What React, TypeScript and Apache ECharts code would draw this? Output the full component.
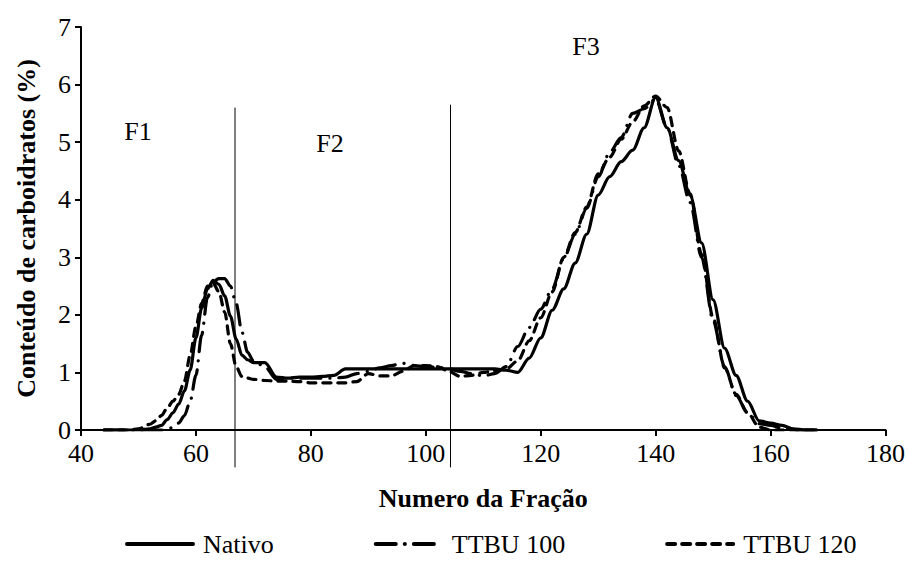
import React, { useEffect, useRef } from "react";
import * as echarts from "echarts";

const FONT = '"Liberation Serif", "Times New Roman", serif';

const fractionNumbers = [
  44, 46, 48, 50, 52, 53, 54, 55, 56, 57, 58, 59, 60, 61, 62, 63, 64, 65, 66, 67, 68, 69, 70,
  72, 74, 76, 78, 80, 82, 84, 86, 88, 90, 92, 94, 96, 98, 100, 102, 104, 106, 108, 110, 112,
  114, 116, 118, 120, 122, 124, 126, 128, 130, 132, 134, 136, 138, 140, 142, 144, 146, 148,
  150, 152, 154, 156, 158, 160, 162, 164, 166, 168,
];

const nativo = [
  0, 0, 0, 0, 0.02, 0.05, 0.08, 0.18, 0.3, 0.45, 0.68, 1.04, 1.6, 2.12, 2.45, 2.6, 2.53, 2.33,
  1.98, 1.58, 1.3, 1.22, 1.17,
  1.17, 0.92, 0.9, 0.92, 0.92, 0.93, 0.95, 1.06, 1.06, 1.06, 1.06, 1.06, 1.06, 1.06, 1.06,
  1.06, 1.06, 1.06, 1.06, 1.06, 1.06, 1.04, 1.0, 1.25, 1.6, 2.08, 2.45, 2.9, 3.4, 4.08, 4.4,
  4.66, 4.86, 5.25, 5.78, 5.25, 4.68, 4.08, 3.25, 2.26, 1.42, 0.95, 0.5, 0.16, 0.12, 0.08,
  0.02, 0, 0,
];

const ttbu100 = [
  0, 0, 0, 0, 0, 0, 0, 0.01, 0.05, 0.12, 0.25, 0.5, 0.95, 1.65, 2.3, 2.58, 2.63, 2.63, 2.5,
  2.2, 1.7, 1.35, 1.2,
  1.1, 0.88, 0.9, 0.9, 0.9, 0.9, 0.9, 0.92, 0.98, 1.02, 1.08, 1.12, 1.16, 1.12, 1.1, 1.09,
  1.06, 1.02, 0.98, 0.94, 0.98, 1.1, 1.45, 1.78, 2.1, 2.45, 2.98, 3.4, 3.85, 4.4, 4.82, 5.08,
  5.5, 5.58, 5.75, 5.25, 4.6, 3.95, 3.0, 1.9, 1.1, 0.6, 0.3, 0.11, 0.08, 0.03, 0, 0, 0,
];

const ttbu120 = [
  0, 0, 0, 0.02, 0.1, 0.16, 0.25, 0.38, 0.5, 0.62, 0.85, 1.3, 1.8, 2.2, 2.5, 2.55, 2.4, 2.05,
  1.5, 1.1, 0.93, 0.9, 0.88,
  0.86, 0.85, 0.85, 0.84, 0.82, 0.82, 0.82, 0.82, 0.84, 0.98, 0.94, 0.94, 1.02, 1.12, 1.12,
  1.1, 1.02, 0.93, 0.95, 1.0, 1.03, 1.06, 1.2, 1.55, 1.95, 2.4, 3.0, 3.43, 3.87, 4.45, 4.74,
  5.05, 5.35, 5.63, 5.8, 5.6, 4.85, 4.1, 3.05, 1.95, 1.08, 0.62, 0.3, 0.05, 0, 0, 0, 0, 0,
];

const seriesNames = ["Nativo", "TTBU 100", "TTBU 120"];
const separatorX = [66.8, 104.3];
const separatorTop = [5.6, 5.65];
const separatorBottom = -0.65;
const fractionLabels = ["F1", "F2", "F3"];

function zip(xs: number[], ys: number[]) {
  return xs.map((x, i) => [x, ys[i]]);
}

export default function App() {
  const ref = useRef<HTMLDivElement>(null);

  useEffect(() => {
    if (!ref.current) return;
    const chart = echarts.init(ref.current, undefined, { renderer: "svg" });

    const lineBase = {
      type: "line" as const,
      showSymbol: false,
      symbol: "none",
      smooth: 0.3,
      smoothMonotone: "x" as const,
      z: 3,
    };

    const separators = separatorX.map((x, i) => ({
      type: "line" as const,
      name: "sep" + i,
      data: [
        [x, separatorTop[i]],
        [x, separatorBottom],
      ],
      showSymbol: false,
      symbol: "none",
      clip: false,
      silent: true,
      lineStyle: { color: "#000", width: 1 },
      z: 2,
    }));

    const labelStyle = (text: string) => ({
      text,
      font: `26px ${FONT}`,
      fill: "#000",
      align: "center",
      verticalAlign: "middle",
    });

    chart.setOption({
      animation: false,
      backgroundColor: "#fff",
      textStyle: { fontFamily: FONT, color: "#000" },
      grid: { left: 81, right: 22, top: 27, bottom: 136, containLabel: false },
      legend: {
        data: seriesNames,
        left: 125,
        top: 531,
        padding: 0,
        itemWidth: 66,
        itemHeight: 2,
        itemGap: 100,
        itemStyle: { opacity: 0 },
        lineStyle: { width: 4 },
        textStyle: {
          fontFamily: FONT,
          fontSize: 26,
          color: "#000",
          padding: [0, 0, 0, 5],
        },
      },
      xAxis: {
        type: "value",
        min: 40,
        max: 180,
        interval: 20,
        name: "Numero da Fração",
        nameLocation: "middle",
        nameGap: 55,
        nameTextStyle: { fontFamily: FONT, fontSize: 26, fontWeight: "bold", color: "#000" },
        axisLine: { show: true, lineStyle: { color: "#000", width: 2 } },
        axisTick: { show: true, inside: false, length: 6, lineStyle: { color: "#000", width: 2 } },
        axisLabel: { fontFamily: FONT, fontSize: 26, color: "#000", margin: 10 },
        splitLine: { show: false },
      },
      yAxis: {
        type: "value",
        min: 0,
        max: 7,
        interval: 1,
        name: "Conteúdo de carboidratos (%)",
        nameLocation: "middle",
        nameGap: 42,
        nameTextStyle: { fontFamily: FONT, fontSize: 26, fontWeight: "bold", color: "#000" },
        axisLine: { show: true, lineStyle: { color: "#000", width: 2 } },
        axisTick: { show: true, inside: false, length: 6, lineStyle: { color: "#000", width: 2 } },
        axisLabel: { fontFamily: FONT, fontSize: 26, color: "#000", margin: 10 },
        splitLine: { show: false },
      },
      graphic: [
        { type: "text", x: 138, y: 131, style: labelStyle(fractionLabels[0]) },
        { type: "text", x: 330, y: 143, style: labelStyle(fractionLabels[1]) },
        { type: "text", x: 586, y: 46, style: labelStyle(fractionLabels[2]) },
      ],
      series: [
        ...separators,
        {
          ...lineBase,
          name: seriesNames[0],
          data: zip(fractionNumbers, nativo),
          itemStyle: { color: "#000" },
          lineStyle: { color: "#000", width: 3.2, type: "solid", cap: "round", join: "round" },
        },
        {
          ...lineBase,
          name: seriesNames[1],
          data: zip(fractionNumbers, ttbu100),
          itemStyle: { color: "#000" },
          lineStyle: { color: "#000", width: 3.2, type: [20, 9, 0.1, 9], cap: "round", join: "round" },
        },
        {
          ...lineBase,
          name: seriesNames[2],
          data: zip(fractionNumbers, ttbu120),
          itemStyle: { color: "#000" },
          lineStyle: { color: "#000", width: 3.2, type: [8, 7], cap: "round", join: "round" },
        },
      ],
    });

    return () => chart.dispose();
  }, []);

  return (
    <div
      ref={ref}
      style={{ position: "fixed", left: 0, top: 0, width: 908, height: 566, background: "#fff" }}
    />
  );
}
